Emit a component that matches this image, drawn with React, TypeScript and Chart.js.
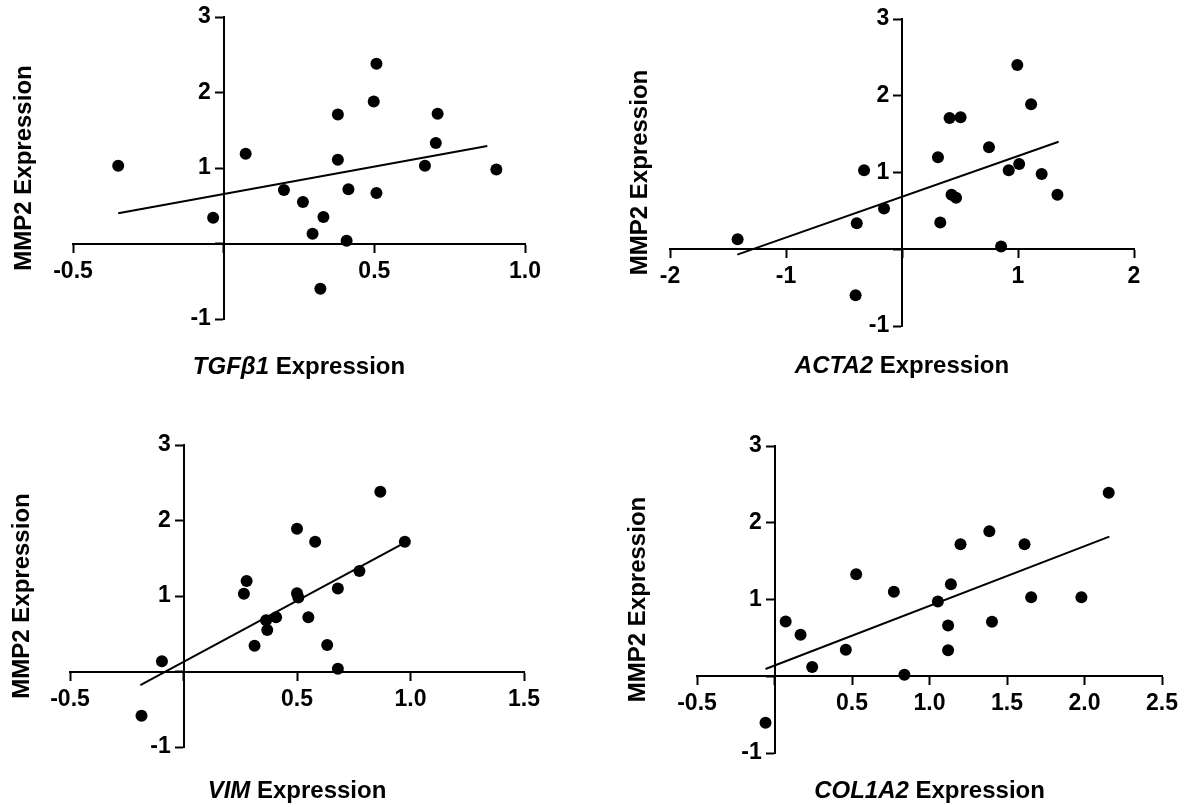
import React, { useEffect, useRef } from "react";
import { Chart, registerables } from "chart.js";

Chart.register(...registerables);

// ---------- data ----------
const Y_TITLE = "MMP2 Expression";

const TGFB1_X = [-0.35, 0.073, -0.035, 0.2, 0.263, 0.295, 0.331, 0.379, 0.379, 0.414, 0.408, 0.321, 0.498, 0.507, 0.507, 0.668, 0.704, 0.71, 0.905];
const TGFB1_Y = [1.03, 1.19, 0.34, 0.71, 0.55, 0.13, 0.35, 1.71, 1.11, 0.72, 0.035, -0.6, 1.88, 2.38, 0.67, 1.03, 1.33, 1.72, 0.98];
const TGFB1_FIT_X = [-0.35, 0.875];
const TGFB1_FIT_Y = [0.4, 1.29];

const ACTA2_X = [-1.417, -0.327, -0.39, -0.155, -0.4, 0.31, 0.33, 0.41, 0.505, 0.427, 0.466, 0.75, 0.854, 0.92, 1.01, 0.994, 1.113, 1.204, 1.34];
const ACTA2_Y = [0.13, 1.03, 0.34, 0.53, -0.6, 1.2, 0.35, 1.71, 1.72, 0.71, 0.67, 1.33, 0.035, 1.03, 1.11, 2.4, 1.89, 0.98, 0.71];
const ACTA2_FIT_X = [-1.42, 1.35];
const ACTA2_FIT_Y = [-0.07, 1.4];

const VIM_X = [-0.185, -0.095, 0.266, 0.278, 0.313, 0.364, 0.369, 0.408, 0.5, 0.5, 0.506, 0.55, 0.58, 0.633, 0.68, 0.68, 0.775, 0.867, 0.975];
const VIM_Y = [-0.586, 0.137, 1.03, 1.2, 0.34, 0.68, 0.55, 0.72, 1.89, 1.035, 0.98, 0.72, 1.72, 0.35, 1.1, 0.035, 1.33, 2.38, 1.72];
const VIM_FIT_X = [-0.19, 0.965];
const VIM_FIT_Y = [-0.18, 1.69];

const COL1A2_X = [-0.058, 0.072, 0.168, 0.243, 0.46, 0.527, 0.77, 0.838, 1.054, 1.12, 1.12, 1.138, 1.2, 1.386, 1.403, 1.613, 1.656, 1.98, 2.156];
const COL1A2_Y = [-0.606, 0.714, 0.54, 0.12, 0.346, 1.33, 1.1, 0.02, 0.974, 0.66, 0.34, 1.2, 1.72, 1.89, 0.71, 1.72, 1.03, 1.03, 2.39];
const COL1A2_FIT_X = [-0.058, 2.16];
const COL1A2_FIT_Y = [0.095, 1.82];

// axis ranges / ticks
const TGFB1_XTICKS = { min: -0.5, max: 1.0, step: 0.5, decimals: 1 };
const ACTA2_XTICKS = { min: -2, max: 2, step: 1, decimals: 0 };
const VIM_XTICKS = { min: -0.5, max: 1.5, step: 0.5, decimals: 1 };
const COL1A2_XTICKS = { min: -0.5, max: 2.5, step: 0.5, decimals: 1 };
const Y_TICKS = { min: -1, max: 3, step: 1, decimals: 0 };

// ---------- layout (canvas-relative) ----------
const FONT = '"Liberation Sans", Arial, Helvetica, sans-serif';

type PanelDef = {
  gene: string;
  xs: number[];
  ys: number[];
  fx: number[];
  fy: number[];
  xt: { min: number; max: number; step: number; decimals: number };
  left: number;
  top: number;
  width: number;
  height: number;
  padding: { left: number; right: number; top: number; bottom: number };
  yTitleX: number;
  xTitleY: number;
};

const PANELS: PanelDef[] = [
  {
    gene: "TGF\u03B21", xs: TGFB1_X, ys: TGFB1_Y, fx: TGFB1_FIT_X, fy: TGFB1_FIT_Y, xt: TGFB1_XTICKS,
    left: 0, top: 0, width: 592, height: 403,
    padding: { left: 73, right: 67, top: 17, bottom: 84 },
    yTitleX: 31, xTitleY: 374,
  },
  {
    gene: "ACTA2", xs: ACTA2_X, ys: ACTA2_Y, fx: ACTA2_FIT_X, fy: ACTA2_FIT_Y, xt: ACTA2_XTICKS,
    left: 592, top: 0, width: 592, height: 403,
    padding: { left: 78, right: 50, top: 19, bottom: 77 },
    yTitleX: 55, xTitleY: 373,
  },
  {
    gene: "VIM", xs: VIM_X, ys: VIM_Y, fx: VIM_FIT_X, fy: VIM_FIT_Y, xt: VIM_XTICKS,
    left: 0, top: 403, width: 592, height: 404,
    padding: { left: 70, right: 68, top: 42, bottom: 60 },
    yTitleX: 29, xTitleY: 395,
  },
  {
    gene: "COL1A2", xs: COL1A2_X, ys: COL1A2_Y, fx: COL1A2_FIT_X, fy: COL1A2_FIT_Y, xt: COL1A2_XTICKS,
    left: 592, top: 403, width: 592, height: 404,
    padding: { left: 105, right: 21, top: 43, bottom: 54 },
    yTitleX: 53, xTitleY: 395,
  },
];

const titlesPlugin = {
  id: "panelTitles",
  afterDraw(chart: any, _args: any, opts: any) {
    const ctx = chart.ctx as CanvasRenderingContext2D;
    const ca = chart.chartArea;
    ctx.save();
    ctx.fillStyle = "#000";
    ctx.font = `bold 24px ${FONT}`;
    ctx.textAlign = "center";
    ctx.textBaseline = "alphabetic";
    ctx.translate(opts.yTitleX, (ca.top + ca.bottom) / 2);
    ctx.rotate(-Math.PI / 2);
    ctx.fillText(Y_TITLE, 0, 0);
    ctx.restore();

    ctx.save();
    ctx.fillStyle = "#000";
    ctx.textBaseline = "alphabetic";
    ctx.textAlign = "left";
    const italicFont = `italic bold 24px ${FONT}`;
    const plainFont = `bold 24px ${FONT}`;
    const rest = " Expression";
    ctx.font = italicFont;
    const w1 = ctx.measureText(opts.gene).width;
    ctx.font = plainFont;
    const w2 = ctx.measureText(rest).width;
    const cx = (ca.left + ca.right) / 2;
    const x0 = cx - (w1 + w2) / 2;
    ctx.font = italicFont;
    ctx.fillText(opts.gene, x0, opts.xTitleY);
    ctx.font = plainFont;
    ctx.fillText(rest, x0 + w1, opts.xTitleY);
    ctx.restore();
  },
};

function fmt(v: number, d: number) {
  if (Math.abs(v) < 1e-9) return "";
  return v.toFixed(d);
}

function Panel({ p }: { p: PanelDef }) {
  const ref = useRef<HTMLCanvasElement | null>(null);
  useEffect(() => {
    if (!ref.current) return;
    const points = p.xs.map((x, i) => ({ x, y: p.ys[i] }));
    const fit = p.fx.map((x, i) => ({ x, y: p.fy[i] }));
    const axisCommon = {
      border: { display: true, color: "#000", width: 2 },
      grid: {
        display: true,
        drawOnChartArea: false,
        drawTicks: true,
        tickLength: 8,
        tickWidth: 2,
        tickColor: "#000",
        color: "#000",
      },
    };
    const chart = new Chart(ref.current, {
      type: "scatter",
      data: {
        datasets: [
          {
            type: "line",
            data: fit,
            borderColor: "#000",
            borderWidth: 2,
            pointRadius: 0,
            fill: false,
            tension: 0,
            order: 1,
          } as any,
          {
            type: "scatter",
            data: points,
            backgroundColor: "#000",
            borderColor: "#000",
            borderWidth: 0,
            pointRadius: 6,
            order: 0,
          } as any,
        ],
      },
      options: {
        animation: false,
        responsive: false,
        devicePixelRatio: 1,
        layout: { padding: p.padding },
        plugins: {
          legend: { display: false },
          tooltip: { enabled: false },
          panelTitles: { yTitleX: p.yTitleX, xTitleY: p.xTitleY, gene: p.gene },
        } as any,
        scales: {
          x: {
            type: "linear",
            position: { y: 0 } as any,
            min: p.xt.min,
            max: p.xt.max,
            offset: false,
            afterFit: (s: any) => { s.height = 0; },
            ticks: {
              stepSize: p.xt.step,
              autoSkip: false,
              maxRotation: 0,
              padding: 6,
              color: "#000",
              font: { family: FONT, size: 23, weight: "bold" },
              callback: (v: any) => fmt(Number(v), p.xt.decimals),
            },
            ...axisCommon,
          },
          y: {
            type: "linear",
            position: { x: 0 } as any,
            min: Y_TICKS.min,
            max: Y_TICKS.max,
            offset: false,
            afterFit: (s: any) => { s.width = 0; },
            ticks: {
              stepSize: Y_TICKS.step,
              autoSkip: false,
              padding: 3,
              color: "#000",
              font: { family: FONT, size: 23, weight: "bold" },
              // trailing spaces keep the label clear of the left-pointing tick mark
              callback: (v: any) => {
                const s = fmt(Number(v), Y_TICKS.decimals);
                return s === "" ? "" : s + "  ";
              },
            },
            ...axisCommon,
          },
        } as any,
      },
      plugins: [titlesPlugin as any],
    });
    return () => chart.destroy();
  }, [p]);
  return (
    <canvas
      ref={ref}
      width={p.width}
      height={p.height}
      style={{ position: "absolute", left: p.left, top: p.top, width: p.width, height: p.height }}
    />
  );
}

export default function App() {
  return (
    <div style={{ position: "absolute", left: 0, top: 0, width: 1184, height: 807, background: "#fff", overflow: "hidden" }}>
      {PANELS.map((p) => (
        <Panel key={p.gene} p={p} />
      ))}
    </div>
  );
}
